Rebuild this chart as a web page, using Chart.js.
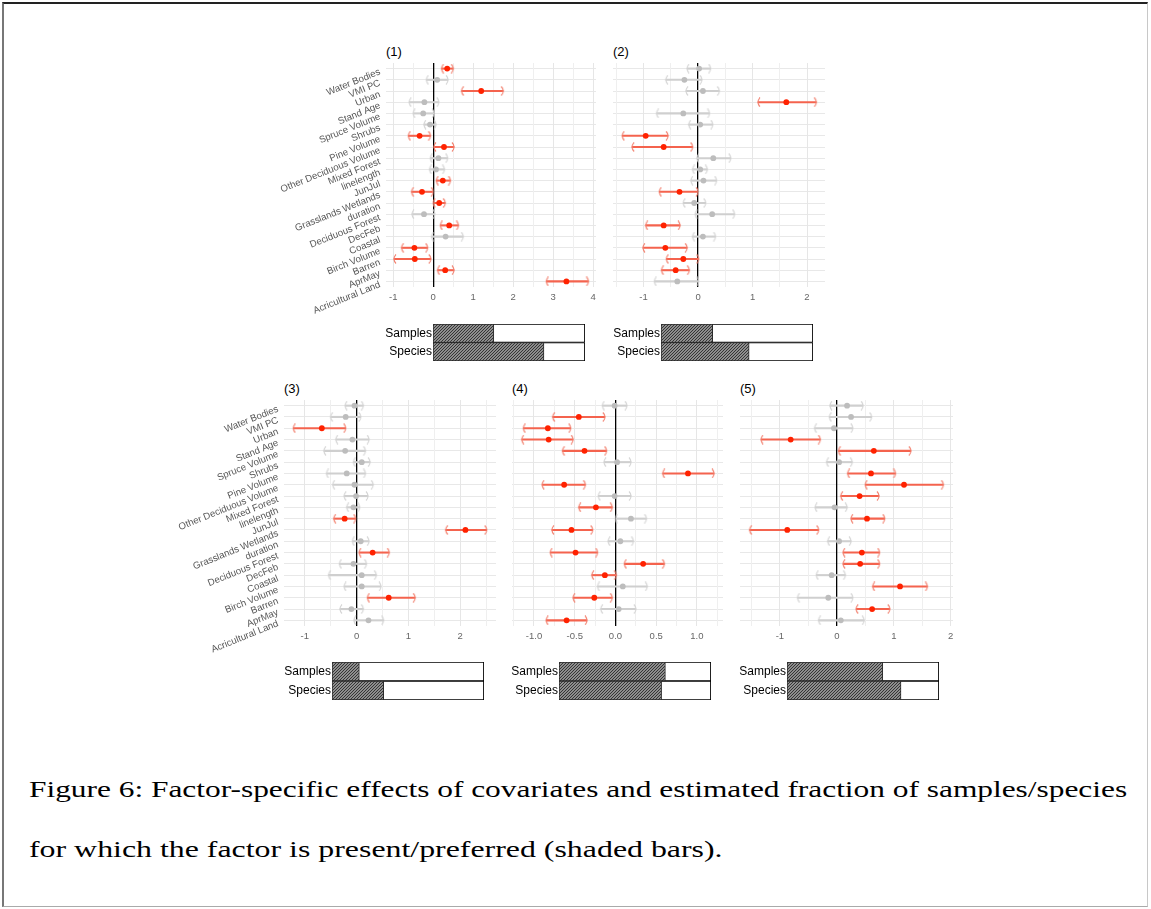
<!DOCTYPE html>
<html>
<head>
<meta charset="utf-8">
<script src="https://cdn.jsdelivr.net/npm/chart.js@4.4.0/dist/chart.umd.min.js"></script>
<style>
  html, body { margin: 0; padding: 0; background: #fff; }
  body { width: 1151px; height: 909px; position: relative; overflow: hidden; }
  #frame { position: absolute; left: 2px; top: 2px; width: 1146px; height: 905px; box-sizing: border-box;
           border-top: 2px solid #222; border-left: 2px solid #777; border-right: 1px solid #c8c8c8; border-bottom: 1px solid #aaa; }
  canvas { position: absolute; }
  .ptitle { position: absolute; font: 13px "Liberation Sans", Arial, sans-serif; color: #000; line-height: 13px; }
  .caption { position: absolute; left: 29px; font-family: "Liberation Serif", serif; font-size: 24px; line-height: 24px;
             color: #000; white-space: nowrap; transform-origin: 0 0; }
</style>
</head>
<body>
<div id="frame"></div>

<div class="ptitle" style="left:386px; top:45px;">(1)</div>
<div class="ptitle" style="left:613px; top:45px;">(2)</div>
<div class="ptitle" style="left:284px; top:382px;">(3)</div>
<div class="ptitle" style="left:512px; top:382px;">(4)</div>
<div class="ptitle" style="left:740px; top:382px;">(5)</div>

<canvas id="p1"></canvas><canvas id="p2"></canvas><canvas id="p3"></canvas><canvas id="p4"></canvas><canvas id="p5"></canvas>
<canvas id="b1"></canvas><canvas id="b2"></canvas><canvas id="b3"></canvas><canvas id="b4"></canvas><canvas id="b5"></canvas>

<div class="caption" id="cap1" style="top:777px;" data-w="1098">Figure 6: Factor-specific effects of covariates and estimated fraction of samples/species</div>
<div class="caption" id="cap2" style="top:837px;" data-w="693">for which the factor is present/preferred (shaded bars).</div>

<script>
const covariates = ['Water Bodies', 'VMI PC', 'Urban', 'Stand Age', 'Spruce Volume', 'Shrubs', 'Pine Volume',
  'Other Deciduous Volume', 'Mixed Forest', 'linelength', 'JunJul', 'Grasslands Wetlands', 'duration',
  'Deciduous Forest', 'DecFeb', 'Coastal', 'Birch Volume', 'Barren', 'AprMay', 'Acricultural Land'];

// factor (1)
const est1 = [0.35, 0.10, 1.20, -0.22, -0.25, -0.08, -0.34, 0.27, 0.13, 0.07, 0.24, -0.28, 0.15, -0.23, 0.40, 0.31, -0.47, -0.46, 0.30, 3.33];
const lo1 = [0.21, -0.17, 0.71, -0.60, -0.50, -0.23, -0.62, 0.02, -0.07, -0.09, 0.08, -0.54, 0.00, -0.53, 0.18, -0.04, -0.79, -0.98, 0.11, 2.83];
const hi1 = [0.50, 0.37, 1.75, 0.14, 0.02, 0.07, -0.07, 0.52, 0.36, 0.28, 0.43, 0.00, 0.30, 0.04, 0.63, 0.75, -0.14, -0.06, 0.52, 3.88];
const sig1 = [1, 0, 1, 0, 0, 0, 1, 1, 0, 0, 1, 1, 1, 0, 1, 0, 1, 1, 1, 1];

// factor (2)
const est2 = [0.02, -0.25, 0.09, 1.62, -0.27, 0.04, -0.96, -0.63, 0.28, 0.04, 0.10, -0.34, -0.07, 0.26, -0.63, 0.09, -0.60, -0.27, -0.41, -0.38];
const lo2 = [-0.20, -0.59, -0.22, 1.10, -0.76, -0.17, -1.39, -1.21, -0.02, -0.10, -0.13, -0.71, -0.27, -0.05, -0.96, -0.10, -1.01, -0.58, -0.67, -0.80];
const hi2 = [0.23, 0.07, 0.39, 2.17, 0.21, 0.27, -0.55, -0.10, 0.60, 0.17, 0.34, 0.00, 0.14, 0.67, -0.33, 0.32, -0.20, 0.01, -0.16, 0.01];
const sig2 = [0, 0, 0, 1, 0, 0, 1, 1, 0, 0, 0, 1, 0, 0, 1, 0, 1, 1, 1, 0];

// factor (3)
const est3 = [-0.04, -0.21, -0.67, -0.08, -0.22, 0.10, -0.19, -0.04, -0.01, -0.06, -0.23, 2.10, 0.08, 0.31, -0.06, 0.10, 0.10, 0.62, -0.10, 0.23];
const lo3 = [-0.22, -0.50, -1.22, -0.40, -0.63, -0.06, -0.58, -0.46, -0.24, -0.19, -0.44, 1.72, -0.08, 0.05, -0.33, -0.54, -0.24, 0.21, -0.32, -0.05];
const hi3 = [0.13, 0.08, -0.21, 0.24, 0.17, 0.26, 0.17, 0.32, 0.22, 0.06, -0.02, 2.51, 0.24, 0.63, 0.19, 0.38, 0.47, 1.13, 0.13, 0.52];
const sig3 = [0, 0, 1, 0, 0, 0, 0, 0, 0, 0, 1, 1, 0, 1, 0, 0, 0, 1, 0, 0];

// factor (4)
const est4 = [-0.01, -0.45, -0.83, -0.82, -0.38, 0.02, 0.89, -0.63, -0.01, -0.24, 0.19, -0.54, 0.06, -0.49, 0.34, -0.13, 0.09, -0.26, 0.04, -0.60];
const lo4 = [-0.16, -0.77, -1.13, -1.15, -0.65, -0.14, 0.58, -0.90, -0.21, -0.45, 0.00, -0.78, -0.09, -0.80, 0.11, -0.29, -0.22, -0.52, -0.18, -0.85];
const hi4 = [0.14, -0.13, -0.55, -0.52, -0.11, 0.19, 1.21, -0.37, 0.19, -0.04, 0.38, -0.28, 0.22, -0.22, 0.60, 0.01, 0.39, -0.04, 0.25, -0.35];
const sig4 = [0, 1, 1, 1, 1, 0, 1, 1, 0, 1, 0, 1, 0, 1, 1, 1, 0, 1, 0, 1];

// factor (5)
const est5 = [0.18, 0.25, -0.05, -0.81, 0.65, 0.04, 0.60, 1.18, 0.40, -0.04, 0.53, -0.87, 0.04, 0.44, 0.41, -0.09, 1.11, -0.15, 0.62, 0.07];
const lo5 = [-0.12, -0.13, -0.39, -1.33, 0.03, -0.18, 0.19, 0.50, 0.07, -0.38, 0.25, -1.53, -0.16, 0.11, 0.11, -0.36, 0.63, -0.69, 0.34, -0.32];
const hi5 = [0.46, 0.61, 0.28, -0.29, 1.30, 0.27, 1.03, 1.87, 0.74, 0.18, 0.84, -0.32, 0.25, 0.75, 0.75, 0.15, 1.59, 0.28, 0.93, 0.48];
const sig5 = [0, 0, 0, 1, 1, 0, 1, 1, 1, 0, 1, 1, 0, 1, 1, 0, 1, 0, 1, 0];

// shaded bars: fraction of samples / species where the factor is present
const barLabels = ['Samples', 'Species'];
const samplesFrac = [0.40, 0.34, 0.18, 0.70, 0.63];
const speciesFrac = [0.73, 0.58, 0.34, 0.675, 0.75];

const RED = { pt: '#ff2200', ln: '#f4634e', br: '#f2806f' };
const GREY = { pt: '#bdbdbd', ln: '#cfcfcf', br: '#d4d4d4' };
const SANS = '"Liberation Sans", Arial, sans-serif';

Chart.defaults.font.family = SANS;

// little "(" and ")" marks for the interval ends
function bracket(color, left) {
    let c = document.createElement('canvas');
    c.width = 6; c.height = 10;
    let g = c.getContext('2d');
    g.strokeStyle = color;
    g.lineWidth = 1.1;
    g.beginPath();
    if (left) g.arc(9, 5, 6, Math.PI - 0.85, Math.PI + 0.85);
    else g.arc(-3, 5, 6, -0.85, 0.85);
    g.stroke();
    return c;
}
const brRedL = bracket(RED.br, true), brRedR = bracket(RED.br, false);
const brGreyL = bracket(GREY.br, true), brGreyR = bracket(GREY.br, false);

function pick(vals, sig, want) {
    return vals.map((v, i) => sig[i] === want ? v : null);
}
function pickRange(lo, hi, sig, want) {
    return lo.map((v, i) => sig[i] === want ? [v, hi[i]] : null);
}

function placeCanvas(el, left, top, w, h) {
    el.width = w; el.height = h;
    el.style.left = left + 'px';
    el.style.top = top + 'px';
}

function makePanel(id, box, xmin, xmax, step, labStep, dec, est, lo, hi, sig, showLabels) {
    const AXW = 130, PADT = 12, PADR = 10, XAH = 40;
    let el = document.getElementById(id);
    placeCanvas(el, box.left - AXW, box.top - PADT, AXW + box.w + PADR, PADT + box.h + XAH);

    const pts = (data, color) => ({
        type: 'line', indexAxis: 'y', showLine: false, data: data,
        pointRadius: 2.9, pointBackgroundColor: color, pointBorderWidth: 0
    });
    const ends = (data, img) => ({
        type: 'line', indexAxis: 'y', showLine: false, data: data,
        pointStyle: img, pointRadius: 3
    });
    const ci = (data, color) => ({
        type: 'bar', indexAxis: 'y', data: data, grouped: false,
        barThickness: 1.4, backgroundColor: color, borderWidth: 0
    });

    const isMajor = v => Math.abs(v / labStep - Math.round(v / labStep)) < 1e-6;
    const isZero = v => Math.abs(v) < 1e-9;

    new Chart(el, {
        type: 'bar',
        data: {
            labels: covariates,
            datasets: [
                pts(pick(est, sig, 1), RED.pt),
                pts(pick(est, sig, 0), GREY.pt),
                ends(pick(lo, sig, 1), brRedL),
                ends(pick(hi, sig, 1), brRedR),
                ends(pick(lo, sig, 0), brGreyL),
                ends(pick(hi, sig, 0), brGreyR),
                ci(pickRange(lo, hi, sig, 1), RED.ln),
                ci(pickRange(lo, hi, sig, 0), GREY.ln)
            ]
        },
        options: {
            indexAxis: 'y',
            responsive: false,
            animation: false,
            events: [],
            layout: { padding: { top: PADT, right: PADR, left: 0, bottom: 0 } },
            plugins: { legend: { display: false }, tooltip: { enabled: false } },
            scales: {
                x: {
                    type: 'linear', min: xmin, max: xmax, bounds: 'data',
                    border: { display: false },
                    grid: {
                        drawTicks: false, z: -1,
                        color: c => isZero(c.tick.value) ? '#000' : (isMajor(c.tick.value) ? '#e6e6e6' : '#efefef'),
                        lineWidth: c => isZero(c.tick.value) ? 1.3 : 1
                    },
                    ticks: {
                        autoSkip: false, maxRotation: 0, minRotation: 0, padding: 5,
                        color: '#666', font: { size: 9.5 },
                        callback: v => isMajor(v) ? v.toFixed(dec) : ''
                    },
                    // tick marks on the round values inside the range
                    afterBuildTicks: s => {
                        let t = [];
                        for (let k = Math.ceil(xmin / step - 1e-9); k * step <= xmax + 1e-9; k++) {
                            t.push({ value: Math.round(k * step * 1000) / 1000 });
                        }
                        s.ticks = t;
                    },
                    afterFit: s => { s.height = XAH; }
                },
                y: {
                    type: 'category', offset: true,
                    border: { display: false },
                    // row lines go under the zero line
                    grid: { offset: false, drawTicks: false, z: -2, color: '#e8e8e8', lineWidth: 1 },
                    ticks: {
                        display: showLabels, autoSkip: false,
                        minRotation: 22, maxRotation: 22, padding: 6, labelOffset: 3,
                        color: '#555', font: { size: 9.6 }
                    },
                    afterFit: s => { s.width = AXW; }
                }
            }
        }
    });
}

function hatch(ctx) {
    let c = document.createElement('canvas');
    c.width = 3; c.height = 3;
    let g = c.getContext('2d');
    g.fillStyle = '#8e8e8e';
    g.fillRect(0, 0, 3, 3);
    g.strokeStyle = '#353535';
    g.lineWidth = 1;
    g.beginPath();
    g.moveTo(-1, 4); g.lineTo(4, -1);
    g.moveTo(-1, 1); g.lineTo(1, -1);
    g.moveTo(2, 4); g.lineTo(4, 2);
    g.stroke();
    return ctx.createPattern(c, 'repeat');
}

function makeBars(id, box, k) {
    const AXW = 60, PAD = 10;
    let el = document.getElementById(id);
    placeCanvas(el, box.left - AXW, box.top - PAD, AXW + box.w + 4, box.h + 2 * PAD);
    const pattern = hatch(el.getContext('2d'));

    new Chart(el, {
        type: 'bar',
        data: {
            labels: barLabels,
            datasets: [
                { data: [samplesFrac[k], speciesFrac[k]], backgroundColor: pattern, borderColor: '#2a2a2a',
                  borderWidth: 1, borderSkipped: false, grouped: false, categoryPercentage: 1, barPercentage: 1 },
                { data: [1, 1], backgroundColor: '#fff', borderColor: '#000',
                  borderWidth: 1.2, borderSkipped: false, grouped: false, categoryPercentage: 1, barPercentage: 1 }
            ]
        },
        options: {
            indexAxis: 'y',
            responsive: false,
            animation: false,
            events: [],
            layout: { padding: { top: PAD, bottom: PAD, left: 0, right: 4 } },
            plugins: { legend: { display: false }, tooltip: { enabled: false } },
            scales: {
                x: { type: 'linear', min: 0, max: 1, display: false },
                y: {
                    grid: { display: false, drawTicks: false }, border: { display: false },
                    ticks: { color: '#000', font: { size: 12 }, padding: 1 },
                    afterFit: s => { s.width = AXW; }
                }
            }
        }
    });
}

makePanel('p1', { left: 386, top: 63, w: 210, h: 224 }, -1.18, 4.07, 0.5, 1, 0, est1, lo1, hi1, sig1, true);
makePanel('p2', { left: 613, top: 63, w: 212, h: 224 }, -1.56, 2.33, 0.5, 1, 0, est2, lo2, hi2, sig2, false);
makePanel('p3', { left: 284, top: 400, w: 212, h: 226 }, -1.40, 2.69, 0.5, 1, 0, est3, lo3, hi3, sig3, true);
makePanel('p4', { left: 512, top: 400, w: 211, h: 226 }, -1.27, 1.32, 0.25, 0.5, 1, est4, lo4, hi4, sig4, false);
makePanel('p5', { left: 740, top: 400, w: 213, h: 226 }, -1.70, 2.04, 0.5, 1, 0, est5, lo5, hi5, sig5, false);

makeBars('b1', { left: 433, top: 324, w: 152, h: 37 }, 0);
makeBars('b2', { left: 661, top: 324, w: 152, h: 37 }, 1);
makeBars('b3', { left: 332, top: 662, w: 152, h: 38 }, 2);
makeBars('b4', { left: 559, top: 662, w: 152, h: 38 }, 3);
makeBars('b5', { left: 787, top: 662, w: 152, h: 38 }, 4);

// stretch caption lines to the width they have in the figure
document.querySelectorAll('.caption').forEach(el => {
    const target = parseFloat(el.dataset.w);
    el.style.transform = 'scaleX(' + (target / el.offsetWidth) + ')';
});
</script>
</body>
</html>
